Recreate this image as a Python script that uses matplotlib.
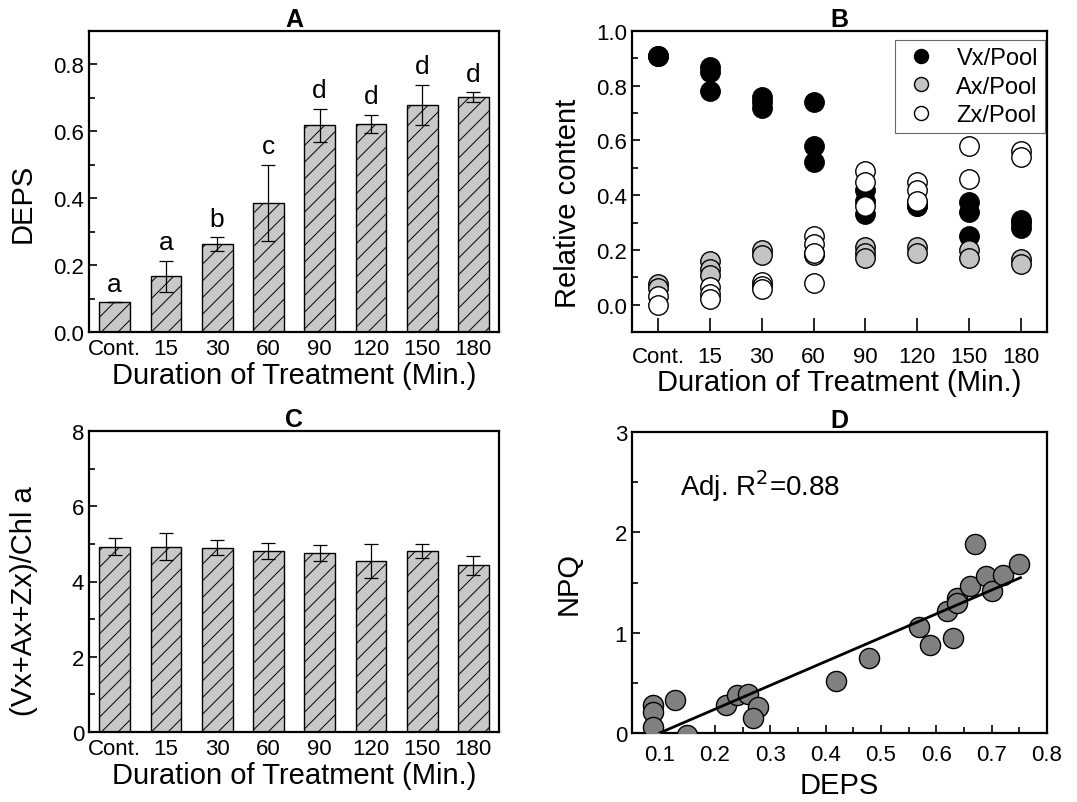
import numpy as np
import matplotlib
matplotlib.use("Agg")
import matplotlib.pyplot as plt
from matplotlib.ticker import MultipleLocator

plt.rcParams['font.family'] = ['Liberation Sans', 'DejaVu Sans']
plt.rcParams['hatch.linewidth'] = 0.7

# ---------------- data ----------------
categories = ["Cont.", "15", "30", "60", "90", "120", "150", "180"]

deps_mean = [0.089, 0.167, 0.263, 0.386, 0.618, 0.622, 0.679, 0.703]
deps_err = [0.0, 0.046, 0.020, 0.114, 0.050, 0.027, 0.060, 0.014]
deps_letters = ["a", "a", "b", "c", "d", "d", "d", "d"]

pool_mean = [4.93, 4.93, 4.90, 4.81, 4.76, 4.54, 4.81, 4.43]
pool_err = [0.23, 0.35, 0.20, 0.21, 0.22, 0.46, 0.18, 0.26]

# panel B replicates (category index, value)
vx_idx = [0, 0, 0, 1, 1, 1, 2, 2, 2, 3, 3, 3, 4, 4, 4, 5, 5, 5, 6, 6, 6, 7, 7, 7]
vx_val = [0.91, 0.91, 0.91, 0.87, 0.85, 0.78, 0.76, 0.74, 0.72, 0.74, 0.58, 0.52,
          0.42, 0.38, 0.33, 0.37, 0.36, 0.36, 0.375, 0.34, 0.25, 0.31, 0.30, 0.28]
ax_idx = [0, 0, 1, 1, 1, 2, 2, 3, 3, 4, 4, 4, 5, 5, 6, 6, 7, 7]
ax_val = [0.077, 0.06, 0.16, 0.13, 0.11, 0.20, 0.18, 0.19, 0.18,
          0.21, 0.19, 0.17, 0.21, 0.19, 0.20, 0.17, 0.165, 0.15]
zx_idx = [0, 0, 1, 1, 1, 2, 2, 2, 3, 3, 3, 3, 4, 4, 4, 5, 5, 5, 6, 6, 7, 7]
zx_val = [0.03, 0.0, 0.065, 0.04, 0.02, 0.083, 0.068, 0.058, 0.25, 0.22, 0.19, 0.08,
          0.49, 0.45, 0.36, 0.45, 0.42, 0.38, 0.58, 0.46, 0.56, 0.54]

# panel D
d_deps = [0.088, 0.088, 0.088, 0.128, 0.150, 0.219, 0.240, 0.260, 0.278, 0.269,
          0.419, 0.479, 0.568, 0.588, 0.619, 0.631, 0.638, 0.638, 0.661, 0.669,
          0.690, 0.700, 0.720, 0.749]
d_npq = [0.276, 0.209, 0.060, 0.326, -0.02, 0.282, 0.375, 0.392, 0.259, 0.150,
         0.515, 0.748, 1.053, 0.874, 1.219, 0.947, 1.346, 1.300, 1.462, 1.887,
         1.565, 1.415, 1.571, 1.681]
fit_slope = 2.374
fit_intercept = -0.237
fit_x_range = [0.10, 0.752]

# ---------------- figure ----------------
W, H = 1077, 803
fig = plt.figure(figsize=(W / 100, H / 100), dpi=100)


def box(l, r, t, b):
    return [l / W, (H - b) / H, (r - l) / W, (b - t) / H]


axA = fig.add_axes(box(89, 499, 32, 333))
axB = fig.add_axes(box(632, 1047, 32, 333))
axC = fig.add_axes(box(89, 499, 432, 733))
axD = fig.add_axes(box(632, 1047, 433, 734))

tick_fs = 16
label_fs = 21
title_fs = 18

for ax in (axA, axB, axC, axD):
    for s in ax.spines.values():
        s.set_linewidth(1.6)
    ax.tick_params(direction='in', which='both', top=False, right=False,
                   labelsize=tick_fs, width=1.2)
    ax.tick_params(which='major', length=6)
    ax.tick_params(which='minor', length=4)

x = np.arange(len(categories))
bar_kw = dict(width=0.6, color='#c8c8c8', edgecolor='black', linewidth=1.0,
              hatch='//', zorder=2)
err_kw = dict(fmt='none', ecolor='black', elinewidth=0.9, capsize=5,
              capthick=0.9, zorder=3)

# Panel A
axA.bar(x, deps_mean, **bar_kw)
axA.errorbar(x, deps_mean, yerr=deps_err, **err_kw)
for xi, m, e, t in zip(x, deps_mean, deps_err, deps_letters):
    axA.text(xi, m + e + 0.02, t, ha='center', va='bottom', fontsize=19)
axA.set_xlim(-0.5, 7.5)
axA.set_ylim(0, 0.9)
axA.set_yticks([0.0, 0.2, 0.4, 0.6, 0.8])
axA.set_yticklabels(["0.0", "0.2", "0.4", "0.6", "0.8"])
axA.yaxis.set_minor_locator(MultipleLocator(0.1))
axA.set_xticks(x)
axA.set_xticklabels(categories)
axA.tick_params(axis='x', length=0, pad=4)
axA.set_ylabel("DEPS", fontsize=label_fs)
axA.yaxis.set_label_coords(-0.128, 0.432)
axA.set_xlabel("Duration of Treatment (Min.)", fontsize=label_fs, labelpad=2)
axA.set_title("A", fontsize=title_fs, fontweight='bold', pad=0)

# Panel C
axC.bar(x, pool_mean, **bar_kw)
axC.errorbar(x, pool_mean, yerr=pool_err, **err_kw)
axC.set_xlim(-0.5, 7.5)
axC.set_ylim(0, 8)
axC.yaxis.set_major_locator(MultipleLocator(2))
axC.yaxis.set_minor_locator(MultipleLocator(1))
axC.set_xticks(x)
axC.set_xticklabels(categories)
axC.tick_params(axis='x', length=0, pad=4)
axC.set_ylabel("(Vx+Ax+Zx)/Chl a", fontsize=label_fs)
axC.yaxis.set_label_coords(-0.124, 0.439)
axC.set_xlabel("Duration of Treatment (Min.)", fontsize=label_fs, labelpad=2)
axC.set_title("C", fontsize=title_fs, fontweight='bold', pad=0)

# Panel B
ms = 14
axB.plot(vx_idx, vx_val, 'o', ms=ms, mfc='black', mec='black', mew=1.0,
         label='Vx/Pool', zorder=3)
axB.plot(ax_idx, ax_val, 'o', ms=ms, mfc='#c3c3c3', mec='black', mew=1.0,
         label='Ax/Pool', zorder=4)
axB.plot(zx_idx, zx_val, 'o', ms=ms, mfc='white', mec='black', mew=1.0,
         label='Zx/Pool', zorder=5)
axB.set_xlim(-0.5, 7.5)
axB.set_ylim(-0.1, 1.0)
axB.set_yticks([0.0, 0.2, 0.4, 0.6, 0.8, 1.0])
axB.set_yticklabels(["0.0", "0.2", "0.4", "0.6", "0.8", "1.0"])
axB.yaxis.set_minor_locator(MultipleLocator(0.1))
axB.set_xticks(x)
axB.set_xticklabels(categories)
axB.tick_params(axis='x', which='major', length=10, pad=10)
axB.set_ylabel("Relative content", fontsize=label_fs)
axB.yaxis.set_label_coords(-0.12, 0.432)
axB.set_xlabel("Duration of Treatment (Min.)", fontsize=label_fs, labelpad=1)
axB.set_title("B", fontsize=title_fs, fontweight='bold', pad=0)
leg = axB.legend(loc='upper right', bbox_to_anchor=(1 - 2 / 415, 1 - 9 / 301),
                 borderaxespad=0, fontsize=17, markerscale=0.72,
                 frameon=True, fancybox=False, edgecolor='#444444',
                 borderpad=0.3, handletextpad=0.7, labelspacing=0.28,
                 handlelength=1.6)
leg.get_frame().set_linewidth(0.8)

# Panel D
axD.scatter(d_deps, d_npq, s=210, c='#808080', edgecolors='black',
            linewidths=1.0, zorder=3, clip_on=True)
fx = np.array(fit_x_range)
axD.plot(fx, fit_slope * fx + fit_intercept, color='black', lw=2.0, zorder=4)
axD.set_xlim(0.05, 0.8)
axD.set_ylim(0, 3)
axD.set_xticks([0.1, 0.2, 0.3, 0.4, 0.5, 0.6, 0.7, 0.8])
axD.set_xticklabels(["0.1", "0.2", "0.3", "0.4", "0.5", "0.6", "0.7", "0.8"])
axD.xaxis.set_minor_locator(MultipleLocator(0.05))
axD.yaxis.set_major_locator(MultipleLocator(1))
axD.yaxis.set_minor_locator(MultipleLocator(0.5))
axD.tick_params(axis='x', pad=8)
axD.set_ylabel("NPQ", fontsize=label_fs)
axD.yaxis.set_label_coords(-0.12, 0.5)
axD.set_xlabel("DEPS", fontsize=label_fs, labelpad=4)
axD.set_title("D", fontsize=title_fs, fontweight='bold', pad=0)
axD.text(0.137, 2.47, r"Adj. R$^2$=0.88", fontsize=20, va='center', ha='left')

fig.savefig("out.png", dpi=100)
